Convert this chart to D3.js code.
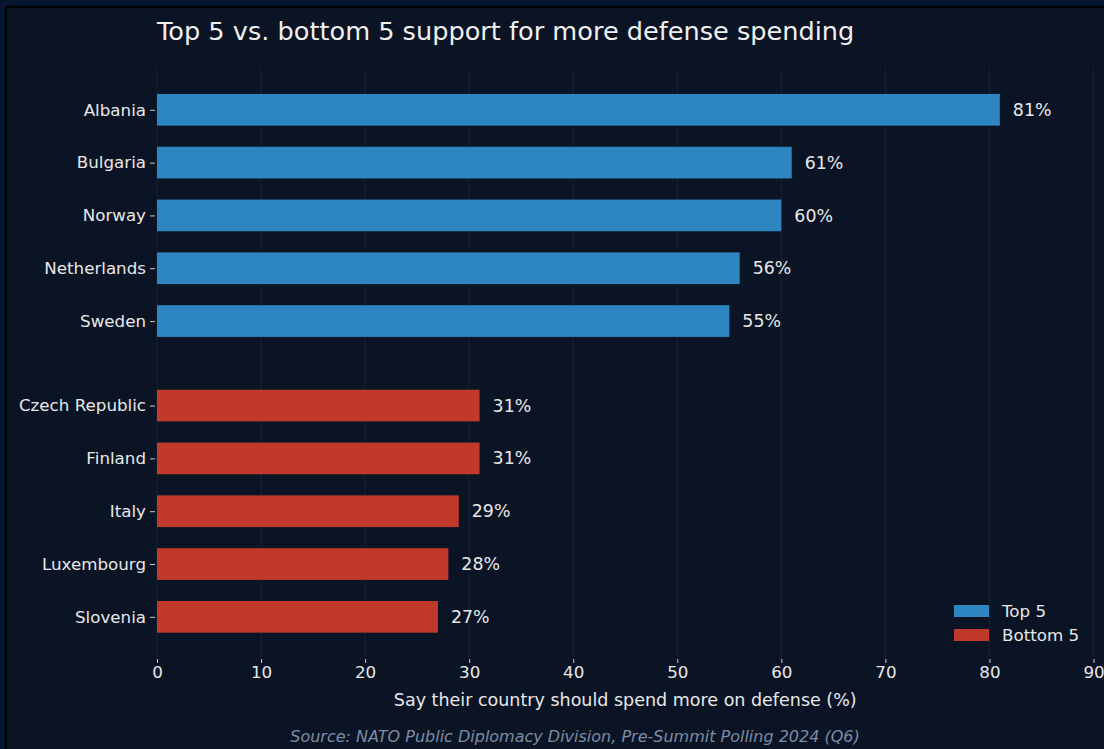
<!DOCTYPE html>
<html><head><meta charset="utf-8">
<script src="https://cdn.jsdelivr.net/npm/d3@7/dist/d3.min.js"></script>
<style>
html,body{margin:0;padding:0;background:#061530;}
svg{display:block;font-family:"DejaVu Sans",sans-serif;}
</style></head>
<body>
<svg id="chart" width="1104" height="749"></svg>
<script>
const countries = ["Albania","Bulgaria","Norway","Netherlands","Sweden","Czech Republic","Finland","Italy","Luxembourg","Slovenia"];
const values = [81,61,60,56,55,31,31,29,28,27];
const groups = ["Top 5","Top 5","Top 5","Top 5","Top 5","Bottom 5","Bottom 5","Bottom 5","Bottom 5","Bottom 5"];
const positions = [0,1,2,3,4,5.6,6.6,7.6,8.6,9.6];
const xTicks = [0,10,20,30,40,50,60,70,80,90];
const legendLabels = ["Top 5","Bottom 5"];
const colors = {"Top 5":"#2e86c1","Bottom 5":"#c0392b"};

(function(){
const svg = d3.select("#chart");
svg.append("rect").attr("width",1104).attr("height",749).attr("fill","#061530");
svg.append("rect").attr("x",6).attr("y",7).attr("width",1110).attr("height",760).attr("fill","#0b1425").attr("stroke","#000").attr("stroke-width",2);

const pL=157, pR=1093.5, pT=67, pB=657;
const x = d3.scaleLinear().domain([0,90]).range([pL,pR]);
const y = d3.scaleLinear().domain([-0.81,10.36]).range([pT,pB]);
const bh = y(0.6)-y(0);

svg.append("g").selectAll("line").data(xTicks).join("line")
  .attr("x1",d=>x(d)).attr("x2",d=>x(d)).attr("y1",pT).attr("y2",pB)
  .attr("stroke","#172133").attr("stroke-width",1);

svg.append("g").selectAll("rect").data(countries).join("rect")
  .attr("x",x(0)).attr("y",(d,i)=>y(positions[i])-bh/2)
  .attr("width",(d,i)=>x(values[i])-x(0)).attr("height",bh)
  .attr("fill",(d,i)=>colors[groups[i]]);

svg.append("g").selectAll("text").data(countries).join("text")
  .attr("x",(d,i)=>x(values[i]+1.25)).attr("y",(d,i)=>y(positions[i]))
  .attr("dy","0.35em").attr("fill","#e8e8e8").attr("font-size",17.4)
  .text((d,i)=>values[i]+"%");

const xAxis = svg.append("g").attr("transform",`translate(0,${pB})`)
  .call(d3.axisBottom(x).tickValues(xTicks).tickSize(4).tickPadding(5));
xAxis.select(".domain").remove();
xAxis.selectAll("line").attr("stroke","#cccccc").attr("transform","translate(0,2)");
xAxis.selectAll("text").attr("fill","#e8e8e8").attr("font-size",16.7).attr("font-family","DejaVu Sans");

const yAxis = svg.append("g").attr("transform",`translate(${pL-2},0)`)
  .call(d3.axisLeft(y).tickValues(positions).tickFormat((d,i)=>countries[i]).tickSize(5).tickPadding(4));
yAxis.select(".domain").remove();
yAxis.selectAll("line").attr("stroke","#cccccc");
yAxis.selectAll("text").attr("fill","#e8e8e8").attr("font-size",16.7).attr("font-family","DejaVu Sans");

svg.append("text").attr("x",157).attr("y",40).attr("fill","#f0f0f0").attr("font-size",25.6)
  .text("Top 5 vs. bottom 5 support for more defense spending");

svg.append("text").attr("x",(pL+pR)/2).attr("y",706).attr("text-anchor","middle")
  .attr("fill","#e8e8e8").attr("font-size",17.5).text("Say their country should spend more on defense (%)");

svg.append("text").attr("x",575).attr("y",742).attr("text-anchor","middle")
  .attr("fill","#7d8ca3").attr("font-size",16).attr("font-style","italic")
  .text("Source: NATO Public Diplomacy Division, Pre-Summit Polling 2024 (Q6)");

const lg = svg.append("g").attr("transform","translate(954,605)");
legendLabels.forEach((l,i)=>{
  lg.append("rect").attr("x",0).attr("y",i*24).attr("width",35).attr("height",12).attr("fill",colors[l]);
  lg.append("text").attr("x",48).attr("y",i*24+6).attr("dy","0.35em").attr("fill","#e8e8e8").attr("font-size",16.7).text(l);
});
})();
</script>
</body></html>
